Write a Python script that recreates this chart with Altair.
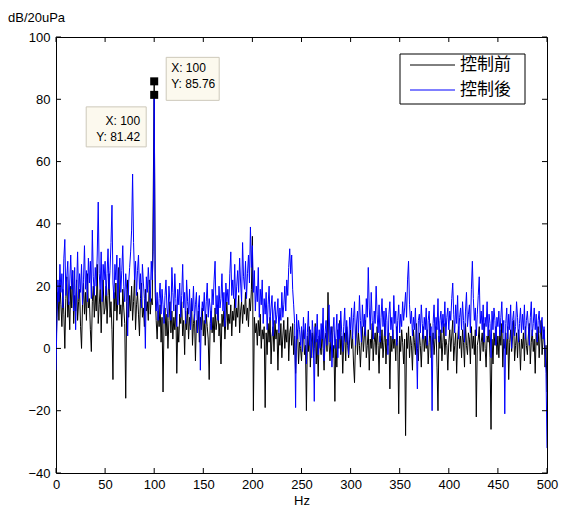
import altair as alt
import pandas as pd

# 控制前 (before control), dB re 20uPa, 1 Hz steps from 0 Hz
before = (
    [-3, 12, 18, 9, 21, 14, 7, 19, 11, 0, 16, 23, 10, 15, 6, 20, 13, 25, 8, 17, 12, 22, 9, 15, 19]
    + [7, 0, 14, 21, 11, 18, 9, 24, 13, 16, 6, -1, 15, 20, 10, 17, 12, 27, 8, 14, 19, 5, 16, 22, 11]
    + [13, 20, 8, 17, 24, 10, 15, 6, -10, 18, 12, 21, 9, 16, 26, 11, 14, 7, 19, 13, 8, -16, 15, 22, 10]
    + [17, 12, 20, 9, 15, 23, 6, 14, 18, 11, 4, 16, 21, 10, 13, 7, 19, 12, 15, 9, 22, 11, 16, 14, 48]
    + [85.76, 18, 9, 3, 12, 7, 14, 2, 10, -14, 8, 13, 4, 11, 0, 9, 15, 5, 12, 3, 10, 6, 14, -8, 7]
    + [2, 11, 8, 15, 4, 9, -2, 12, 6, 13, 3, 10, 7, 16, 1, 8, 11, -4, 9, 5, 12, 2, 10, 6, 13]
    + [4, 9, 1, 11, 7, 3, -10, 8, 12, 5, 10, 2, 13, 6, 9, 14, 4, 8, -5, 11, 7, 12, 3, 9, 15]
    + [6, 11, 8, 14, 4, 12, 9, 16, 7, 13, 10, 17, 5, 12, 15, 8, 14, 11, 18, 9, 13, 7, 16, 12, 19]
    + [36, -20, 10, 5, 8, 1, 9, 4, 11, 0, 6, 3, 7, -19, 5, -2, 8, 2, 10, -5, 4, 7, -1, 9, 3]
    + [6, -7, 5, 1, 8, -3, 4, 9, 0, 6, 2, 10, -4, 5, 7, 1, 8, -2, 4, -8, 3, 6, -5, 2, 0]
    + [-4, 3, 6, -2, 1, -20, 4, -1, 7, -6, 2, 5, -3, 0, 8, -5, 3, -9, 4, 1, -2, 6, 0, -7, 3]
    + [5, -1, 18, 2, -4, 4, 7, -3, 1, -17, 3, -6, 6, 0, 9, -2, 4, -8, 2, 5, -4, 7, 1, -3, 3]
    + [6, 0, 4, -5, -11, 3, 8, -2, 5, 1, -6, 2, 7, -1, 4, 9, -3, 1, 6, -7, 3, 0, 8, -4, 2]
    + [5, -2, 7, 1, -8, 4, 0, 6, -3, 2, 8, -5, 3, 1, 5, -13, 4, -1, 6, 0, 3, -4, 7, 2, -21]
    + [4, -1, 6, 2, -5, 3, -28, 5, 0, 7, -3, 4, 1, -7, 6, 2, -2, 8, 0, -4, 5, 1, -6, 3, 7]
    + [-1, 4, 0, 6, -5, 2, 8, -3, 1, 5, -2, 3, 7, -6, -20, 4, 0, 6, -4, 2, 8, -2, 3, 1, -7]
    + [2, 6, -1, 4, 9, -4, 1, 5, -8, 3, 7, 0, 4, -3, 6, 2, -6, 8, 1, -2, 5, 3, -5, 7, 0]
    + [4, -2, 6, -22, 1, 3, 7, -4, 2, 5, -1, 8, 0, -6, 4, 2, 6, -3, -26, 3, -5, 5, 1, 7, -2]
    + [4, -3, 6, 1, 8, -6, 3, 0, 5, -2, 7, -10, 2, 6, -1, 4, 9, -4, 1, 5, -3, 6, 2, -7, 3]
    + [0, 5, -4, 7, 1, -2, 4, 8, -5, 2, 6, -1, 3, -8, 5, 1, 7, -3, 4, 9, -2, 3, 6, -6, 1]
    + [-14]
)

# 控制後 (after control)
after = (
    [-7, 10, 22, 15, 27, 18, 24, 13, 29, 35, 17, 23, 28, 14, 21, 30, 19, 25, 12, 26, 6, 20, 31, 16, 24]
    + [18, 27, 14, 22, 33, 19, 25, 15, 29, 21, 28, 16, 38, 23, 17, 26, 20, 30, 47, 24, 19, 31, 15, 27, 22]
    + [28, 17, 24, 32, 19, 25, 34, 46, 21, 16, 27, 22, 30, 14, 23, 29, 18, 25, 33, 20, 15, 24, 19, 4, 21]
    + [26, 31, 38, 56, 34, 22, 28, 17, 25, 30, 19, 24, 13, 27, 21, 16, 0, 23, 18, 26, 20, 15, 28, 22, 31]
    + [81.42, 24, 12, 18, 9, 16, 21, 11, 19, 14, 8, 17, 22, 13, 10, 20, 15, 9, 26, 18, 12, 24, 16, 7, 19]
    + [14, 21, 10, 17, 27, 13, 18, 8, 22, 15, 11, 19, 6, 16, 12, 20, 9, 14, 18, 5, 13, 17, -7, 10, 15]
    + [12, 18, 8, 15, 21, 10, 16, 13, 6, 19, 14, 22, 28, 11, 17, 9, 20, 13, 16, 24, 12, 18, 7, 21, 15]
    + [19, 14, 24, 31, 17, 22, 16, 27, 13, 20, 25, 18, 29, 21, 15, 34, 23, 19, 28, 16, 24, 30, 21, 39, 26]
    + [33, 18, 25, 12, 20, 15, 26, 10, 19, 14, 22, 8, 16, 11, 18, 6, 14, 20, 9, 13, 17, 4, 12, 15, 8]
    + [11, 16, 5, 13, 9, 18, 10, 14, 20, 12, 22, 17, 26, 32, 24, 30, 19, 14, 8, -19, 11, 3, 9, 6, 1]
    + [7, -1, 10, 3, 8, -5, 5, 12, 1, 6, -3, 9, 4, -17, 7, 2, 11, -2, 6, 0, 8, 3, 13, -4, 5]
    + [9, 1, 6, 14, 2, 7, -6, 5, 10, 0, 4, 11, -3, 8, 3, 12, 5, -1, 7, 13, 2, 9, 4, -2, 10]
    + [6, 13, 3, 10, 15, 1, 8, 12, 5, 17, 9, 2, 14, 7, 11, 4, 16, 10, 26, 13, 6, 18, 9, 3, 12]
    + [8, 20, 11, 5, 14, 2, 10, 16, 7, 12, 4, 13, 9, -2, 11, 15, 6, 10, 3, 17, 8, 12, 1, 9, 14]
    + [5, 11, 7, 15, 9, 13, 18, 10, 22, 28, 14, 8, 12, 4, 10, 6, 13, 2, -13, 9, 11, 5, 14, 8, 3]
    + [10, 6, 13, 1, 9, 12, 4, 7, -20, 8, 14, 3, 10, 6, 16, 2, 9, 12, 5, 11, 7, 15, 4, 10, 13]
    + [6, 12, 9, 16, 21, 11, 5, 14, 8, 17, 3, 10, 13, 6, 15, 9, 2, 12, 18, 7, 11, 14, 5, 19, 28]
    + [16, 9, 13, 4, 11, 17, 23, 8, 12, 6, 14, 2, 10, 7, 15, 4, 11, 8, -3, 12, 6, 13, 9, 1, 10]
    + [7, 12, 4, 10, 15, 5, 9, -21, 8, 13, 3, 11, 6, 14, 0, 9, 12, 4, 7, 15, 10, 2, 8, 13, 5]
    + [11, 6, 14, 3, 9, 12, 7, 1, 10, 15, 4, 8, 13, 6, 11, 2, 9, 12, 5, 8, 10, 3, 7, 0, -8]
    + [-32]
)

series_names = ["控制前", "控制後"]
series_colors = ["#000000", "#0000ff"]

x_ticks = [0, 50, 100, 150, 200, 250, 300, 350, 400, 450, 500]
y_ticks = [-40, -20, 0, 20, 40, 60, 80, 100]

tip_hz = [100, 100]
tip_db = [85.76, 81.42]
tip_labels = ["X: 100\nY: 85.76", "X: 100\nY: 81.42"]

n = min(len(before), len(after))
hz = list(range(n))
df = pd.DataFrame({
    "Hz": hz + hz,
    "dB": before[:n] + after[:n],
    "series": [series_names[0]] * n + [series_names[1]] * n,
})
tick_x_df = pd.DataFrame({"Hz": x_ticks})
tick_y_df = pd.DataFrame({"dB": y_ticks})
tip_df = pd.DataFrame({"Hz": tip_hz, "dB": tip_db, "label": tip_labels})
leg_df = pd.DataFrame({"series": series_names})

W, H = 491, 436
FONT = "Liberation Sans"
CJK = "Noto Sans CJK TC"

xs = alt.Scale(domain=[0, 500], nice=False, zero=False)
ys = alt.Scale(domain=[-40, 100], nice=False, zero=False)
cs = alt.Scale(domain=series_names, range=series_colors)

x_enc = alt.X("Hz:Q", scale=xs, axis=alt.Axis(
    values=x_ticks, title="Hz", ticks=False, domain=False, grid=False,
    labelPadding=5, titlePadding=3, labelFlush=False))
y_enc = alt.Y("dB:Q", scale=ys, axis=alt.Axis(
    values=y_ticks, title="dB/20uPa", titleAngle=0, titleX=-48.5, titleY=-16,
    titleAlign="left", titleBaseline="alphabetic", ticks=False, domain=False,
    grid=False, labelPadding=6, labelFlush=False))
color = alt.Color("series:N", scale=cs, legend=None)

xq = alt.X("Hz:Q", scale=xs)
yq = alt.Y("dB:Q", scale=ys)

base = alt.Chart(df)
line_before = base.transform_filter(alt.datum.series == series_names[0]).mark_line(
    strokeWidth=1, clip=True).encode(x=x_enc, y=y_enc, color=color)
line_after = base.transform_filter(alt.datum.series == series_names[1]).mark_line(
    strokeWidth=1, clip=True).encode(x=xq, y=yq, color=color)

# inward ticks on all four sides (MATLAB box style)
ytl = alt.Chart(tick_y_df).mark_rule(color="black").encode(y=yq, x=alt.value(0), x2=alt.value(5))
ytr = alt.Chart(tick_y_df).mark_rule(color="black").encode(y=yq, x=alt.value(W - 5), x2=alt.value(W))
xtb = alt.Chart(tick_x_df).mark_rule(color="black").encode(x=xq, y=alt.value(H - 5), y2=alt.value(H))
xtt = alt.Chart(tick_x_df).mark_rule(color="black").encode(x=xq, y=alt.value(0), y2=alt.value(5))

# data tips
box_fill = "#fcf9ee"
box_stroke = "#cdc8ba"
tip1 = alt.Chart(tip_df.iloc[[0]])
tip2 = alt.Chart(tip_df.iloc[[1]])
box1 = tip1.mark_rect(fill=box_fill, stroke=box_stroke, strokeWidth=1,
                      xOffset=12, x2Offset=65, yOffset=-24, y2Offset=19).encode(
    x=xq, x2=alt.X2("Hz"), y=yq, y2=alt.Y2("dB"))
box2 = tip2.mark_rect(fill=box_fill, stroke=box_stroke, strokeWidth=1,
                      xOffset=-68, x2Offset=-8, yOffset=12, y2Offset=52).encode(
    x=xq, x2=alt.X2("Hz"), y=yq, y2=alt.Y2("dB"))
txt1 = tip1.mark_text(align="left", baseline="top", dx=17, dy=-18, lineBreak="\n",
                      lineHeight=16, font=FONT, fontSize=12, color="black").encode(
    x=xq, y=yq, text="label:N")
txt2 = tip2.mark_text(align="right", baseline="top", dx=-14, dy=21, lineBreak="\n",
                      lineHeight=16, font=FONT, fontSize=12, color="black").encode(
    x=xq, y=yq, text="label:N")
squares = alt.Chart(tip_df).mark_square(size=64, filled=True, color="black", opacity=1).encode(
    x=xq, y=yq)

# legend box (MATLAB style, top right inside the axes)
leg_box = alt.Chart(leg_df.iloc[[0]]).mark_rect(fill="white", stroke="black", strokeWidth=1).encode(
    x=alt.value(344), x2=alt.value(469), y=alt.value(17), y2=alt.value(67))
leg_layers = []
for i, row_y in enumerate([28, 53]):
    sub = alt.Chart(leg_df.iloc[[i]])
    leg_layers.append(sub.mark_rule(strokeWidth=1).encode(
        x=alt.value(354), x2=alt.value(399), y=alt.value(row_y), color=color))
    leg_layers.append(sub.mark_text(align="left", baseline="middle", font=CJK, fontSize=17,
                                    color="black").encode(
        x=alt.value(404), y=alt.value(row_y), text="series:N"))

chart = alt.layer(
    line_before, line_after, ytl, ytr, xtb, xtt, box1, box2, txt1, txt2, squares,
    leg_box, *leg_layers
).properties(
    width=W, height=H,
    padding={"left": 56, "top": 37, "right": 14, "bottom": 44},
    autosize=alt.AutoSizeParams(type="none"),
    background="white",
).configure_view(
    stroke="black", strokeWidth=1
).configure_axis(
    labelFont=FONT, labelFontSize=13, labelColor="black",
    titleFont=FONT, titleFontSize=13, titleColor="black", titleFontWeight="normal",
)

chart.save("out.html", embed_options={"renderer": "svg", "actions": False})
